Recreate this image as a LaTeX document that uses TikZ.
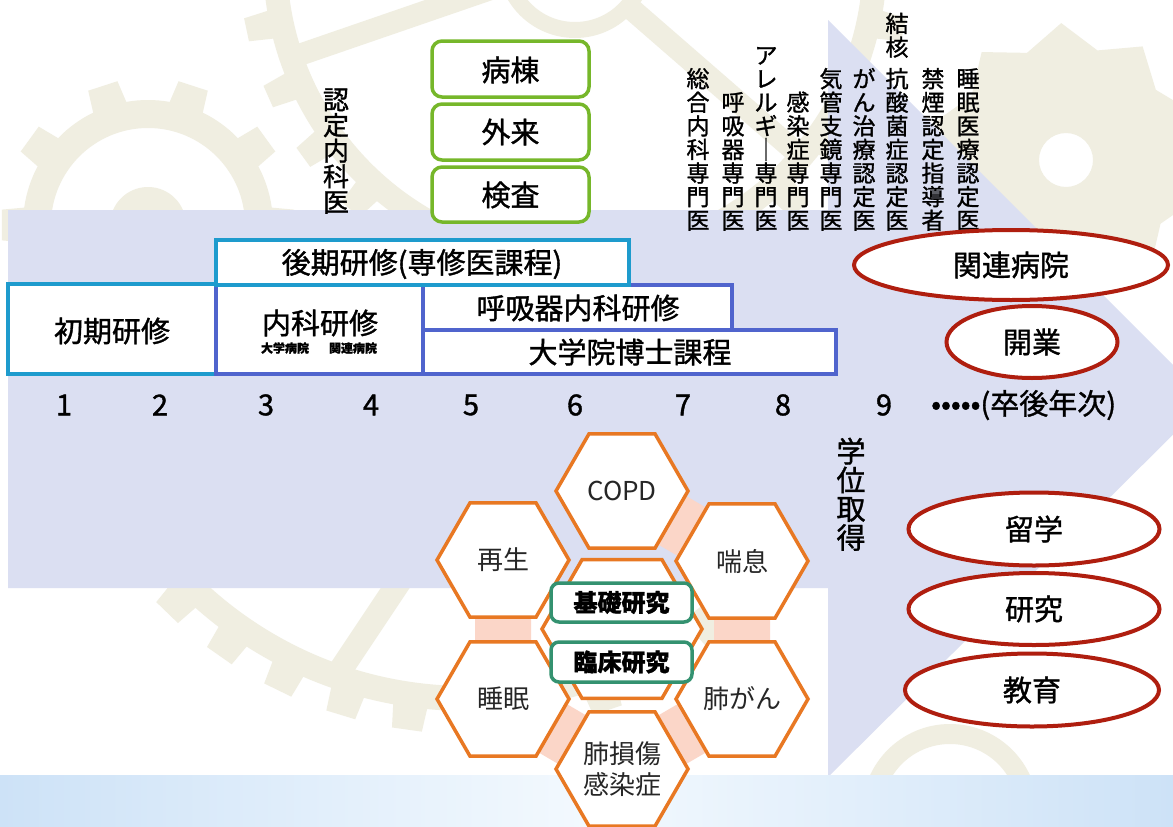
\documentclass[tikz,border=0pt]{standalone}
\usepackage{fontspec}
\setmainfont{Noto Sans CJK JP}[FakeBold=1.2]
\newfontfamily\jplight{Noto Sans CJK JP}
\usepackage{tikz}
\usetikzlibrary{shapes.geometric}

\definecolor{gearc}{RGB}{240,238,225}
\definecolor{lavend}{RGB}{219,223,242}
\definecolor{bandA}{RGB}{205,226,247}
\definecolor{bandB}{RGB}{243,249,254}
\definecolor{cyanb}{RGB}{30,155,205}
\definecolor{blueb}{RGB}{80,100,205}
\definecolor{greenb}{RGB}{118,183,42}
\definecolor{tealb}{RGB}{52,146,112}
\definecolor{orangeb}{RGB}{232,120,35}
\definecolor{pinkb}{RGB}{251,214,200}
\definecolor{redb}{RGB}{175,30,15}

\newcommand{\lblfont}{\fontsize{29}{34}\selectfont}
\newcommand{\hexfont}{\jplight\fontsize{26}{31}\selectfont}
\newcommand{\colfont}{\fontsize{23}{23.6}\selectfont}
\newcommand{\subfont}{\bfseries\fontsize{12}{14}\selectfont}

\begin{document}
\begin{tikzpicture}[
    x=1pt, y=-1pt,
    Gear/.style={fill=gearc, even odd rule},
    Arw/.style={fill=lavend},
    Cbox/.style={draw=cyanb, fill=white, line width=3.5pt},
    Bbox/.style={draw=blueb, fill=white, line width=3.5pt},
    Gbox/.style={draw=greenb, fill=white, line width=3.5pt, rounded corners=10pt},
    Kbox/.style={draw=tealb, fill=white, line width=3.5pt, rounded corners=8pt},
    Hex/.style={regular polygon, regular polygon sides=6, draw=orangeb, fill=white,
        line width=3.5pt, minimum size=132pt, inner sep=0pt, font=\hexfont,
        text=black!85, align=center},
    Ell/.style={ellipse, draw=redb, fill=white, line width=4pt, inner sep=0pt, font=\lblfont},
    Band/.style={draw=pinkb, line width=56pt},
    Lbl/.style={font=\lblfont, inner sep=0pt},
    Sml/.style={font=\subfont, inner sep=0pt},
    Klbl/.style={font=\bfseries\fontsize{24}{28}\selectfont, inner sep=0pt},
    Vtxt/.style={font=\colfont, align=center, inner sep=0pt, anchor=south},
]
\useasboundingbox (0,0) rectangle (1173,827);
\clip (0,0) rectangle (1173,827);
\fill[white] (0,0) rectangle (1173,827);

% gears in the back
\begin{scope}[shift={(148,225)}]
\fill[Gear] (-8:125) foreach \a in {0,36,...,324} {-- (\a-6:147) -- (\a+6:147) -- (\a+8:125)
    arc[start angle=\a+8, end angle=\a+28, radius=125]} -- cycle (0,0) circle[radius=97];
\fill[Gear] (0,0) circle[radius=38];
\end{scope}
\begin{scope}[shift={(575,-40)}]
\fill[Gear] (-2.6:312) foreach \a in {0,12,...,348} {-- (\a-2:336) -- (\a+2:336) -- (\a+2.6:312)
    arc[start angle=\a+2.6, end angle=\a+9.4, radius=312]} -- cycle (0,0) circle[radius=288];
\fill[Gear] (0,0) circle[radius=78] (0,0) circle[radius=62];
\foreach \a in {41,161,281} \draw[gearc, line width=22pt] (\a:70) -- (\a:295);
\end{scope}
\begin{scope}[shift={(1066,160)}]
\fill[Gear] (16:137) foreach \a in {16,52,...,340} {-- (\a+18:114) -- (\a+36:137)} -- cycle
    (0,0) circle[radius=27];
\end{scope}
\begin{scope}
\clip (0,588) rectangle (1173,827);
\begin{scope}[shift={(467,302)}]
\fill[Gear] (5.6:409) foreach \a in {8,17,...,359} {-- (\a-2:432) -- (\a+2:432) -- (\a+2.4:409)
    arc[start angle=\a+2.4, end angle=\a+6.6, radius=409]} -- cycle (0,0) circle[radius=384];
\draw[gearc, line width=24pt] (103:280) -- (109:390);
\end{scope}
\end{scope}
\fill[Gear] (950,812) circle[radius=88] (950,812) circle[radius=68];

% timeline arrow
\fill[Arw] (8,210) -- (828,210) -- (828,20) -- (1208,400) -- (828,777) -- (828,588) -- (8,588) -- cycle;
\shade[left color=bandA, right color=bandA, middle color=bandB] (0,775) rectangle (1173,827);

\node[Vtxt, font=\fontsize{26}{25.6}\selectfont] (nintei) at (336,214) {認\\定\\内\\科\\医};

\draw[Gbox] (432,41) rectangle (589,97);
\node[Lbl] (byoto) at (510.5,70) {病棟};
\draw[Gbox] (432,104) rectangle (589,160);
\node[Lbl] (gairai) at (510.5,132) {外来};
\draw[Gbox] (432,167) rectangle (589,222);
\node[Lbl] (kensa) at (510.5,195) {検査};

\draw[Cbox] (8,284) rectangle (216,374);
\node[Lbl] (shoki) at (112,331) {初期研修};
\draw[Bbox] (216,285) rectangle (423,374);
\node[Lbl] (naika) at (320,323) {内科研修};
\node[Sml] (naikasub) at (319,348) {大学病院\hspace{20pt}関連病院};
\draw[Bbox] (423,285) rectangle (732,330);
\node[Lbl] (kokyu) at (578,308) {呼吸器内科研修};
\draw[Bbox] (423,330) rectangle (836,374);
\node[Lbl] (hakase) at (630,352) {大学院博士課程};
\draw[Cbox] (216,240) rectangle (629,285);
\node[Lbl] (koki) at (422,264) {後期研修(専修医課程)};

\node[Lbl] (y1) at (64,405) {1};
\node[Lbl] (y2) at (160,405) {2};
\node[Lbl] (y3) at (266,405) {3};
\node[Lbl] (y4) at (371,405) {4};
\node[Lbl] (y5) at (471,405) {5};
\node[Lbl] (y6) at (575,405) {6};
\node[Lbl] (y7) at (683,405) {7};
\node[Lbl] (y8) at (783,405) {8};
\node[Lbl] (y9) at (884,405) {9};
\node[Lbl, anchor=west] (nenji) at (931,405) {•••••(卒後年次)};

\node[Vtxt] (sogo) at (698,231) {総\\合\\内\\科\\専\\門\\医};
\node[Vtxt] (kokyusen) at (733,231) {呼\\吸\\器\\専\\門\\医};
\node[Vtxt] (allergy) at (766,231) {ア\\レ\\ル\\ギ\\｜\\専\\門\\医};
\node[Vtxt] (kansen) at (798,231) {感\\染\\症\\専\\門\\医};
\node[Vtxt] (kikan) at (831,231) {気\\管\\支\\鏡\\専\\門\\医};
\node[Vtxt] (gan) at (864,231) {が\\ん\\治\\療\\認\\定\\医};
\node[Vtxt] (kekkaku) at (897,231) {結\\核\\[8pt]抗\\酸\\菌\\症\\認\\定\\医};
\node[Vtxt] (kinen) at (933,231) {禁\\煙\\認\\定\\指\\導\\者};
\node[Vtxt] (suiminsen) at (968,231) {睡\\眠\\医\\療\\認\\定\\医};
\node[Vtxt, font=\fontsize{29}{28.75}\selectfont] (gakui) at (851,551) {学\\位\\取\\得};

\node[Ell, minimum width=314pt, minimum height=70pt] (kanren) at (1011,265) {関連病院};
\node[Ell, minimum width=171pt, minimum height=72pt] (kaigyo) at (1032,342) {開業};
\node[Ell, minimum width=251pt, minimum height=73pt] (ryugaku) at (1034,529) {留学};
\node[Ell, minimum width=251pt, minimum height=72pt] (kenkyu) at (1034,609) {研究};
\node[Ell, minimum width=254pt, minimum height=73pt] (kyoiku) at (1032,690) {教育};

\coordinate (p-copd) at (622,491);
\coordinate (p-saisei) at (503,560);
\coordinate (p-zensoku) at (742,561);
\coordinate (p-suimin) at (503,699);
\coordinate (p-haigan) at (742,699);
\coordinate (p-haison) at (622,769);
\coordinate (p-core) at (622,629);
\draw[Band] (p-copd) -- (p-zensoku) -- (p-haigan) -- (p-haison) -- (p-suimin) -- (p-saisei);

\node[Hex, minimum size=160pt] (core) at (p-core) {};
\node[Hex] (copd) at (p-copd) {COPD};
\node[Hex] (saisei) at (p-saisei) {再生};
\node[Hex] (zensoku) at (p-zensoku) {喘息};
\node[Hex] (suimin) at (p-suimin) {睡眠};
\node[Hex] (haigan) at (p-haigan) {肺がん};
\node[Hex] (haison) at (p-haison) {肺損傷\\感染症};

\draw[Kbox] (551,583) rectangle (692,622);
\node[Klbl] (kiso) at (621.5,602.5) {基礎研究};
\draw[Kbox] (551,642) rectangle (692,682);
\node[Klbl] (rinsho) at (621.5,662) {臨床研究};
\end{tikzpicture}
\end{document}
